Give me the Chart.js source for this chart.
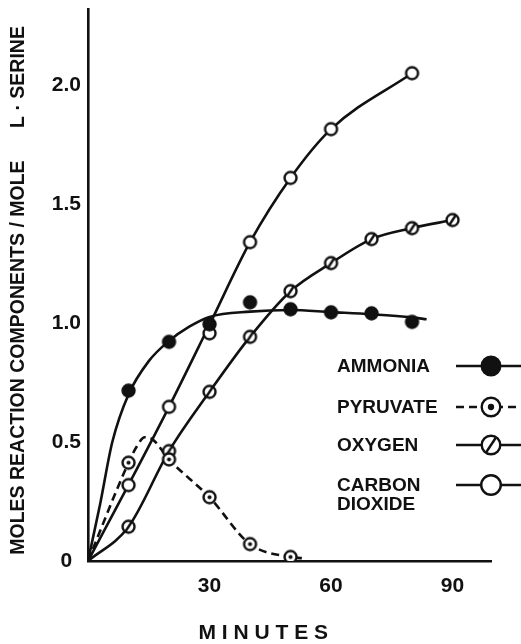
<!DOCTYPE html>
<html>
<head>
<meta charset="utf-8">
<script src="https://cdn.jsdelivr.net/npm/chart.js@4.4.1/dist/chart.umd.min.js"></script>
<style>
  html, body { margin: 0; padding: 0; background: #fff; }
  canvas { display: block; }
</style>
</head>
<body>
<canvas id="serine" width="521" height="644"></canvas>
<script>
// sampling times (minutes)
const minutes = [10, 20, 30, 40, 50, 60, 70, 80, 90];

// measured points, moles per mole L-serine (null = no point)
const ammonia       = [0.716, 0.921, 0.995, 1.087, 1.058, 1.045, 1.041, 1.005, null];
const pyruvate      = [0.413, 0.427, 0.268, 0.071, 0.017, null, null, null, null];
const oxygen        = [0.144, 0.462, 0.711, 0.942, 1.134, 1.252, 1.353, 1.399, 1.433];
const carbonDioxide = [0.319, 0.648, 0.957, 1.340, 1.610, 1.815, null, 2.050, null];

// hand drawn curves
const ammoniaCurveMin  = [0, 3, 6, 10, 15, 20, 25, 30, 40, 50, 60, 70, 80, 83.6];
const ammoniaCurve     = [0, 0.24, 0.50, 0.70, 0.84, 0.925, 0.985, 1.026, 1.048, 1.055, 1.046, 1.037, 1.024, 1.016];
const pyruvateCurveMin = [0, 10, 12, 14, 16, 20, 30, 40, 50, 52.8];
const pyruvateCurve    = [0, 0.413, 0.48, 0.52, 0.51, 0.427, 0.268, 0.071, 0.017, 0.012];
const co2CurveMin      = [0, 10, 20, 30, 40, 50, 60, 80];
const co2Curve         = [0, 0.32, 0.648, 0.993, 1.34, 1.61, 1.815, 2.05];

// axis ticks
const xTicks = [30, 60, 90];
const yTicks = [0, 0.5, 1.0, 1.5, 2.0];
const yTickLabels = ['0', '0.5', '1.0', '1.5', '2.0'];

const legendLabels = ['AMMONIA', 'PYRUVATE', 'OXYGEN', ['CARBON', 'DIOXIDE']];

const INK = '#111';
const FONT = '"Liberation Sans", Arial, sans-serif';
const LW = 2.6;

function drawMarker(ctx, kind, cx, cy, r) {
    const rr = r - 1.2;
    ctx.save();
    ctx.lineWidth = 2.4;
    ctx.strokeStyle = INK;
    ctx.fillStyle = kind === 'filled' ? INK : '#fff';
    ctx.beginPath();
    ctx.arc(cx, cy, rr, 0, Math.PI * 2);
    ctx.fill();
    ctx.stroke();
    if (kind === 'dot') {
        ctx.beginPath();
        ctx.arc(cx, cy, rr * 0.34, 0, Math.PI * 2);
        ctx.fillStyle = INK;
        ctx.fill();
    }
    if (kind === 'slash') {
        ctx.beginPath();
        ctx.moveTo(cx - rr * 0.55, cy + rr * 0.83);
        ctx.lineTo(cx + rr * 0.55, cy - rr * 0.83);
        ctx.stroke();
    }
    ctx.restore();
}

function markerCanvas(kind, r) {
    const c = document.createElement('canvas');
    c.width = c.height = Math.ceil(r * 2 + 2);
    drawMarker(c.getContext('2d'), kind, c.width / 2, c.height / 2, r);
    return c;
}

function toXY(xs, ys) {
    const out = [];
    xs.forEach((x, i) => { if (ys[i] !== null) out.push({ x: x, y: ys[i] }); });
    return out;
}

function curveDataset(xs, ys, dash) {
    return {
        data: toXY(xs, ys),
        showLine: true,
        borderColor: INK,
        borderWidth: LW,
        borderDash: dash || [],
        pointRadius: 0,
        cubicInterpolationMode: 'monotone',
        order: 1
    };
}

function pointDataset(xs, ys, kind) {
    return {
        data: toXY(xs, ys),
        showLine: false,
        pointStyle: markerCanvas(kind, 7.2),
        order: 0
    };
}

const kinds = ['filled', 'dot', 'slash', 'open'];

// legend drawn inside the plot, text left and a line sample on the right
const sideLegend = {
    id: 'sideLegend',
    afterDatasetsDraw(chart, args, opts) {
        const ctx = chart.ctx;
        ctx.save();
        ctx.font = '700 19px ' + FONT;
        ctx.fillStyle = INK;
        ctx.textBaseline = 'middle';
        opts.rows.forEach((rowY, i) => {
            const lbl = legendLabels[i];
            const lines = Array.isArray(lbl) ? lbl : [lbl];
            lines.forEach((t, j) => ctx.fillText(t, opts.textX, rowY + j * 18.5));
            ctx.save();
            ctx.strokeStyle = INK;
            ctx.lineWidth = LW;
            ctx.setLineDash(i === 1 ? [8, 5] : []);
            ctx.beginPath();
            ctx.moveTo(opts.lineX0, rowY - 1);
            ctx.lineTo(opts.lineX1, rowY - 1);
            ctx.stroke();
            ctx.restore();
            drawMarker(ctx, kinds[i], opts.markX, rowY - 1, i === 3 ? 11 : 10.5);
        });
        ctx.restore();
    }
};

new Chart(document.getElementById('serine'), {
    type: 'scatter',
    data: {
        datasets: [
            curveDataset(ammoniaCurveMin, ammoniaCurve),
            curveDataset(pyruvateCurveMin, pyruvateCurve, [8, 5]),
            curveDataset([0].concat(minutes), [0].concat(oxygen)),
            curveDataset(co2CurveMin, co2Curve),
            pointDataset(minutes, ammonia, 'filled'),
            pointDataset(minutes, pyruvate, 'dot'),
            pointDataset(minutes, oxygen, 'slash'),
            pointDataset(minutes, carbonDioxide, 'open')
        ]
    },
    options: {
        responsive: false,
        animation: false,
        layout: { padding: { top: 9, right: 30, left: 0, bottom: 0 } },
        plugins: {
            legend: { display: false },
            tooltip: { enabled: false },
            sideLegend: { textX: 337, rows: [367, 408, 446, 486], lineX0: 456, lineX1: 521, markX: 491 }
        },
        scales: {
            x: {
                type: 'linear',
                min: 0,
                max: 99.5,
                afterFit: s => { s.height = 83; s.paddingLeft = 0; s.paddingRight = 0; },
                afterBuildTicks: s => { s.ticks = xTicks.map(v => ({ value: v })); },
                grid: { display: false, drawTicks: false },
                border: { display: true, color: INK, width: 2.6 },
                ticks: { color: INK, padding: 13, font: { family: FONT, size: 21, weight: 'bold' } },
                title: {
                    display: true,
                    text: 'M I N U T E S         ',
                    color: INK,
                    padding: 0,
                    font: { family: FONT, size: 21, weight: 'bold', lineHeight: 1 }
                }
            },
            y: {
                min: 0,
                max: 2.32,
                afterFit: s => { s.width = 88; s.paddingTop = 0; s.paddingBottom = 0; },
                afterBuildTicks: s => { s.ticks = yTicks.map(v => ({ value: v })); },
                grid: { display: false, drawTicks: false },
                border: { display: true, color: INK, width: 2.6 },
                ticks: {
                    color: INK,
                    padding: 7,
                    crossAlign: 'center',
                    font: { family: FONT, size: 21, weight: 'bold' },
                    callback: v => yTickLabels[yTicks.indexOf(v)]
                },
                title: {
                    display: true,
                    text: 'MOLES REACTION COMPONENTS / MOLE      L · SERINE  ',
                    color: INK,
                    padding: { top: 9, bottom: 0 },
                    font: { family: FONT, size: 19.5, weight: 'bold', lineHeight: 1 }
                }
            }
        }
    },
    plugins: [sideLegend]
});
</script>
</body>
</html>
